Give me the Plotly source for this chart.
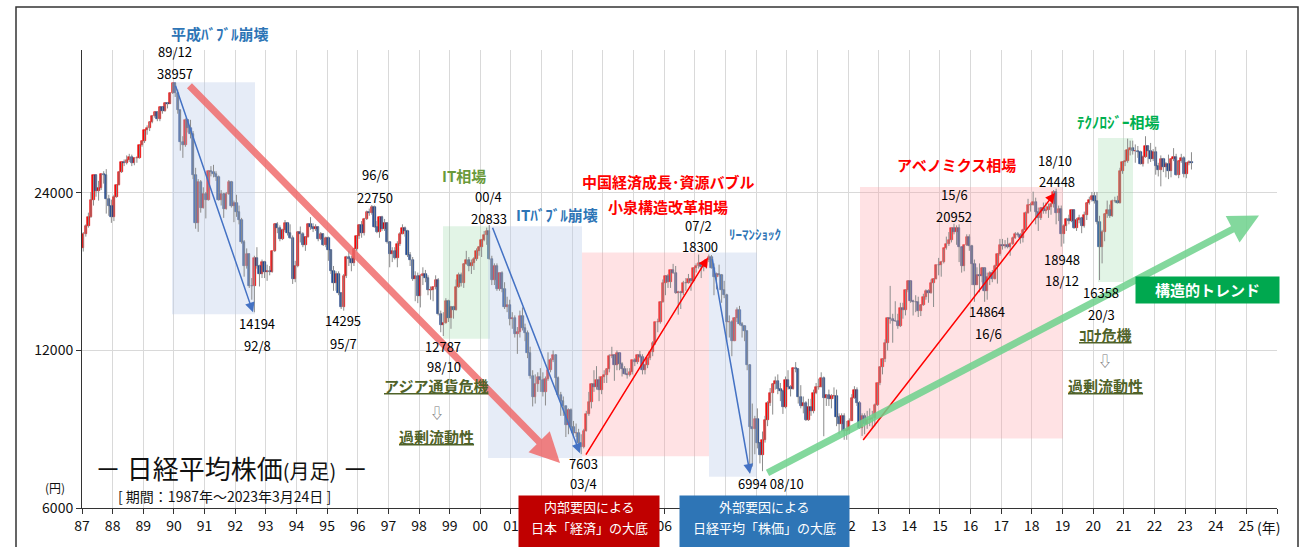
import math
import plotly.graph_objects as go

# ---------------- data (Nikkei 225 monthly, Jan 1987 - Mar 2023) ----------------
first_open = 18820
close = [
    20048, 20766, 21566, 23274, 25929, 24176, 24488, 26029, 26011, 23329, 22686, 21564,  # 1987
    23622, 24889, 26260, 27435, 27418, 27769, 28117, 27366, 27924, 27982, 29579, 30159,  # 1988
    31581, 31986, 32839, 33714, 34267, 33183, 34954, 34431, 35637, 35549, 37269, 38916,  # 1989
    37189, 34592, 29980, 29585, 33131, 31940, 31036, 25978, 20984, 25194, 22455, 23849,  # 1990
    23293, 26409, 26292, 26111, 25790, 23291, 23901, 22335, 23916, 25222, 22688, 22984,  # 1991
    22023, 21339, 19346, 17391, 18348, 15952, 15910, 18061, 17399, 16767, 17684, 16925,  # 1992
    17024, 16953, 18591, 20919, 20552, 19590, 20380, 21027, 20106, 19703, 16408, 17417,  # 1993
    20229, 19997, 19112, 19725, 20974, 20643, 20449, 20629, 19564, 19990, 19076, 19723,  # 1994
    18650, 17053, 16140, 16807, 15437, 14517, 16678, 18117, 17913, 17655, 18744, 19868,  # 1995
    20813, 20125, 21407, 22041, 21956, 22531, 20692, 20167, 21556, 20466, 21020, 19361,  # 1996
    18330, 18557, 18003, 19151, 20068, 20605, 20331, 18229, 17888, 16459, 16636, 15259,  # 1997
    16628, 16831, 16527, 15641, 15671, 15830, 16379, 14108, 13406, 13564, 14884, 13842,  # 1998
    14499, 14368, 15837, 16702, 16112, 17530, 17862, 17437, 17605, 17942, 18558, 18934,  # 1999
    19540, 19959, 20337, 17974, 16332, 17411, 15727, 16861, 15747, 14539, 14649, 13785,  # 2000
    13843, 12883, 12999, 13934, 13262, 12969, 11860, 10713, 9774, 10366, 10697, 10542,   # 2001
    9997, 10587, 11024, 11492, 11763, 10621, 9877, 9619, 9383, 8640, 9215, 8578,         # 2002
    8339, 8363, 7972, 7831, 8425, 9083, 9563, 10344, 10219, 10560, 10100, 10676,         # 2003
    10783, 11042, 11715, 11761, 11236, 11858, 11326, 11082, 10824, 10771, 10899, 11489,  # 2004
    11388, 11740, 11669, 11009, 11277, 11584, 11900, 12414, 13574, 13607, 14872, 16111,  # 2005
    16650, 16205, 17060, 16906, 15467, 15505, 15457, 16141, 16128, 16399, 16274, 17226,  # 2006
    17383, 17604, 17288, 17400, 17876, 18138, 17249, 16569, 16786, 16738, 15681, 15308,  # 2007
    13592, 13603, 12526, 13850, 14339, 13481, 13377, 13073, 11260, 8577, 8512, 8860,     # 2008
    7994, 7568, 8110, 8828, 9523, 9958, 10357, 10493, 10133, 10035, 9346, 10546,         # 2009
    10198, 10126, 11090, 11057, 9769, 9383, 9537, 8824, 9369, 9202, 9937, 10229,         # 2010
    10238, 10624, 9755, 9850, 9694, 9816, 9833, 8955, 8700, 8988, 8434, 8455,            # 2011
    8803, 9723, 10084, 9521, 8543, 9007, 8695, 8840, 8870, 8928, 9446, 10395,            # 2012
    11139, 11559, 12398, 13861, 13775, 13677, 13668, 13389, 14456, 14328, 15662, 16291,  # 2013
    14915, 14841, 14828, 14304, 14632, 15162, 15621, 15425, 16174, 16414, 17460, 17451,  # 2014
    17674, 18798, 19207, 19520, 20563, 20236, 20585, 18890, 17388, 19083, 19747, 19034,  # 2015
    17518, 16027, 16759, 16666, 17235, 15576, 16569, 16887, 16450, 17425, 18308, 19114,  # 2016
    19041, 19119, 18909, 19197, 19651, 20033, 19925, 19646, 20356, 22012, 22725, 22765,  # 2017
    23098, 22068, 21454, 22468, 22202, 22305, 22554, 22865, 24120, 21920, 22351, 20015,  # 2018
    20773, 21385, 21206, 22259, 20601, 21276, 21522, 20704, 21756, 22927, 23294, 23657,  # 2019
    23205, 21143, 18917, 20194, 21878, 22288, 21710, 23140, 23185, 22977, 26434, 27444,  # 2020
    27663, 28966, 29179, 28813, 28860, 28792, 27284, 28090, 29453, 28893, 27822, 28792,  # 2021
    27002, 26527, 27821, 26848, 27280, 26393, 27802, 28092, 25937, 27587, 27969, 26095,  # 2022
    27327, 27446, 27385,                                                                 # 2023
]
high = [
    20200, 20900, 22000, 24100, 25930, 26000, 25300, 26100, 26400, 26646, 23800, 23300,
    23800, 24900, 26400, 27500, 27800, 28300, 28500, 28400, 28000, 28200, 29600, 30200,
    31600, 32300, 32900, 33800, 34300, 34400, 35000, 35100, 35700, 35800, 37300, 38957,
    38920, 37800, 34600, 30800, 33300, 33200, 33100, 31500, 26800, 25500, 25400, 24600,
    24100, 26500, 27000, 27150, 26400, 25900, 24300, 24000, 24100, 25400, 25300, 23200,
    23800, 22700, 21500, 19500, 18800, 18400, 16500, 18200, 18900, 17500, 17900, 17800,
    17500, 17400, 18600, 20950, 21100, 20800, 20500, 21300, 21100, 20900, 19900, 17800,
    20300, 20700, 20200, 19800, 21000, 21573, 21000, 20900, 20700, 20200, 20100, 19800,
    19800, 18700, 17400, 17000, 17000, 15500, 16800, 18200, 18600, 18200, 18800, 19900,
    20900, 21200, 21500, 22200, 22400, 22750, 22700, 21200, 21600, 21700, 21400, 21100,
    19400, 18900, 18900, 19400, 20200, 20900, 20700, 20400, 18500, 18100, 17000, 16900,
    16800, 17300, 17100, 16700, 15900, 15900, 16700, 16500, 14300, 14200, 15100, 15000,
    14600, 14600, 16400, 16900, 16900, 17600, 18600, 18100, 17900, 18100, 18800, 19000,
    19600, 20300, 20600, 20833, 18200, 17600, 17600, 16900, 17000, 16200, 15200, 15000,
    14200, 14000, 13300, 14300, 14500, 13500, 13100, 12200, 11000, 10800, 10900, 11100,
    10900, 10700, 11900, 11600, 12000, 11800, 10700, 10000, 9800, 9400, 9300, 9300,
    8800, 8700, 8500, 8300, 8500, 9200, 10000, 10400, 11000, 11200, 10700, 10700,
    11000, 11100, 11800, 12195, 11800, 12000, 11900, 11400, 11200, 11100, 11100, 11500,
    11600, 11800, 11975, 11800, 11300, 11600, 11900, 12500, 13600, 13800, 14900, 16400,
    16700, 16800, 17100, 17563, 17400, 15600, 15600, 16300, 16500, 16800, 16500, 17300,
    17600, 18300, 17700, 17700, 17900, 18297, 18262, 17600, 16900, 17500, 16800, 16300,
    15400, 14000, 13700, 13900, 14500, 14600, 13600, 13400, 13100, 11300, 9500, 9000,
    9300, 8000, 8400, 9000, 9600, 10170, 10400, 10700, 10800, 10400, 10100, 10700,
    11000, 10300, 11100, 11400, 11100, 10300, 9800, 9600, 9700, 9700, 10100, 10400,
    10600, 10900, 10700, 9900, 10100, 9900, 10200, 10100, 9100, 9100, 9100, 8800,
    8900, 9900, 10255, 10200, 9600, 9100, 9100, 9200, 9300, 9200, 9500, 10400,
    11200, 11600, 12600, 13900, 15942, 14100, 14900, 14100, 14800, 14800, 15700, 16320,
    16300, 15000, 15300, 15200, 14700, 15400, 15700, 15700, 16400, 16500, 17500, 18030,
    17800, 18800, 19800, 20200, 20600, 20952, 20800, 20900, 18900, 19100, 20000, 20000,
    19100, 17900, 17300, 17600, 17300, 17300, 16900, 17000, 17100, 17500, 18400, 19600,
    19600, 19500, 19700, 19300, 19800, 20200, 20200, 20100, 20500, 22100, 23382, 23000,
    24130, 23500, 22500, 22500, 23000, 23000, 22900, 23000, 24300, 24448, 22700, 22700,
    20900, 21500, 21800, 22300, 22300, 21500, 21800, 21600, 22100, 23000, 23600, 24100,
    24100, 24100, 21700, 20400, 21900, 23200, 22800, 23300, 23600, 23700, 26800, 27600,
    28980, 30467, 30200, 30200, 29700, 29500, 28900, 28300, 30795, 29500, 29900, 29100,
    29400, 27400, 28300, 28000, 27500, 28400, 27900, 29222, 28500, 27600, 28500, 28200,
    27500, 27700, 28700,
]
low = [
    18540, 19800, 20600, 21500, 22700, 23600, 23200, 24300, 25000, 21910, 21700, 21036,
    21200, 23500, 24800, 26200, 27000, 27200, 27500, 27000, 27100, 27400, 27900, 29400,
    29900, 31000, 31500, 32600, 33400, 32900, 32900, 34000, 34300, 34800, 35500, 37100,
    36600, 34000, 28900, 28000, 29400, 31300, 30500, 25500, 20500, 20221, 22000, 22400,
    21450, 23200, 25800, 25700, 25300, 23200, 22700, 21500, 22300, 23800, 22500, 21100,
    21600, 20900, 19200, 16600, 17200, 15800, 15000, 14194, 17200, 15900, 16500, 16500,
    16300, 16700, 16900, 18500, 20100, 19400, 19500, 20200, 19900, 19600, 16078, 16200,
    17300, 19300, 18900, 18600, 19700, 20400, 20200, 20300, 19400, 19500, 19000, 18900,
    17800, 16800, 15600, 15600, 15300, 14400, 14295, 16500, 17400, 17000, 17400, 18600,
    19600, 19700, 19900, 21300, 21700, 21800, 20600, 20100, 19700, 20300, 20300, 19200,
    17300, 17700, 17900, 17300, 19000, 20000, 19800, 18100, 17400, 16300, 14900, 14775,
    14500, 16000, 16200, 15300, 15000, 14900, 15700, 14000, 13000, 12787, 13500, 13600,
    13200, 13800, 14300, 15800, 15900, 15800, 17500, 17000, 16800, 17100, 17800, 18200,
    18100, 19400, 19100, 17900, 16000, 16000, 15600, 15600, 15500, 14400, 14200, 13400,
    13200, 12700, 11820, 12700, 13100, 12500, 11600, 10600, 9380, 9500, 10000, 10000,
    9800, 9420, 10500, 10900, 11400, 10100, 9800, 9000, 9000, 8200, 8300, 8500,
    8200, 8200, 7700, 7603, 7800, 8400, 9000, 9300, 10000, 10100, 9600, 9900,
    10400, 10400, 10900, 11600, 10500, 11000, 11000, 10700, 10800, 10600, 10700, 10800,
    11200, 11300, 11600, 10800, 10800, 11100, 11500, 11700, 12300, 13000, 13500, 14800,
    15300, 15800, 15800, 16800, 15400, 14045, 14400, 15300, 15600, 16100, 15600, 16200,
    16900, 17200, 16500, 17000, 17200, 17700, 17200, 15300, 15700, 16600, 14800, 15100,
    12500, 12700, 11700, 12500, 13600, 13400, 12700, 12500, 11000, 6994, 7200, 7600,
    7800, 7300, 7055, 8000, 8600, 9400, 9050, 10100, 9900, 9600, 9076, 9300,
    10100, 9800, 10100, 10900, 9500, 9300, 9100, 8800, 8800, 9000, 9100, 9900,
    10100, 10200, 8227, 9400, 9400, 9300, 9700, 8600, 8300, 8400, 8100, 8100,
    8300, 8800, 9700, 9400, 8500, 8238, 8300, 8500, 8600, 8500, 8600, 9400,
    10300, 10800, 11400, 12000, 13500, 12415, 13600, 13200, 13300, 13800, 14000, 15500,
    14800, 13995, 14200, 13900, 13960, 14600, 15000, 14800, 15400, 14529, 16400, 16700,
    16600, 17600, 18700, 19000, 19300, 20000, 19100, 17700, 16900, 17000, 19000, 18600,
    16000, 14865, 16000, 15500, 16200, 14864, 15000, 16000, 16200, 16400, 16100, 18200,
    18700, 18800, 18800, 18200, 19100, 19600, 19800, 19200, 19300, 20300, 21900, 22100,
    22700, 20900, 20300, 21300, 21900, 21900, 21500, 21800, 22500, 20900, 21200, 18948,
    19200, 20300, 20900, 21100, 20500, 20300, 21000, 20100, 20600, 21300, 22800, 23100,
    22900, 20900, 16358, 17600, 19400, 21500, 21500, 21600, 23000, 22900, 22900, 26100,
    27000, 27400, 28300, 28400, 27400, 28000, 27200, 26950, 28000, 27300, 27500, 27600,
    26000, 25800, 24700, 26300, 25700, 25500, 25700, 27600, 25900, 25600, 27400, 25700,
    25600, 27100, 26600,
]
years = list(range(1987, 2027))
# year labels; those hidden under the two captions at the bottom are left blank
hidden_years = {2002, 2003, 2004, 2005, 2007, 2008, 2009, 2010, 2011}
year_labels = [("" if y in hidden_years else f"{y % 100:02d}") for y in range(1987, 2026)] + [""]
price_ticks = [6000, 12000, 24000]

# ---------------- geometry ----------------
W, H = 1306, 547
ML, MR, MT, MB = 82, 29, 50, 29
PW, PH = W - ML - MR, H - MT - MB
X0, X1 = 1987, 2026
YLO, YHI = 6000, 45000
LLO, LHI = math.log10(YLO), math.log10(YHI)
FONT = "Noto Sans CJK JP"


def dx(px):
    return X0 + (px - ML) / PW * (X1 - X0)


def dly(py):
    return LLO + (H - MB - py) / PH * (LHI - LLO)


def dv(py):
    return 10 ** dly(py)


def pp(px, py):
    return (px - ML) / PW, (H - MB - py) / PH


n = len(close)
xs = [1987 + (i + 0.5) / 12 for i in range(n)]
opens = [first_open] + close[:-1]

fig = go.Figure()

# shaded regions (pixel boxes -> data)
regions = [
    (172, 255, 83, 320, "rgba(190,205,235,0.38)"),
    (443, 490, 230, 345, "rgba(150,215,165,0.28)"),
    (488, 582, 230, 467, "rgba(190,205,235,0.38)"),
    (582, 709, 257, 465, "rgba(255,160,165,0.30)"),
    (709, 757, 257, 486, "rgba(190,205,235,0.38)"),
    (860, 1063, 190, 447, "rgba(255,160,165,0.30)"),
    (1098, 1133, 140, 287, "rgba(150,215,165,0.28)"),
]
for x0, x1, y0, y1, col in regions:
    fig.add_trace(go.Scatter(
        x=[dx(x0), dx(x1), dx(x1), dx(x0), dx(x0)],
        y=[dv(y0), dv(y0), dv(y1), dv(y1), dv(y0)],
        fill="toself", fillcolor=col, line=dict(width=0), mode="lines",
        hoverinfo="skip", showlegend=False))

# wicks
wx, wy = [], []
for x, h, l in zip(xs, high, low):
    wx += [x, x, None]
    wy += [l, h, None]
fig.add_trace(go.Scatter(x=wx, y=wy, mode="lines", line=dict(color="#8c8c8c", width=1),
                         hoverinfo="skip", showlegend=False))

# bodies
ux, ub, uh, dxs, db, dh = [], [], [], [], [], []
for x, o, c in zip(xs, opens, close):
    if c >= o:
        ux.append(x); ub.append(o); uh.append(max(c - o, 1))
    else:
        dxs.append(x); db.append(c); dh.append(o - c)
fig.add_trace(go.Bar(x=ux, y=uh, base=ub, width=0.075, marker=dict(color="#ff0000", line=dict(width=0.6, color="#e00000")),
                     hoverinfo="skip", showlegend=False))
fig.add_trace(go.Bar(x=dxs, y=dh, base=db, width=0.075, marker=dict(color="#1f4fa0", line=dict(width=0.6, color="#102f70")),
                     hoverinfo="skip", showlegend=False))

ann = []


def arrow(p0, p1, color, width, size=1.0, head=2):
    ann.append(dict(x=dx(p1[0]), y=dly(p1[1]), ax=dx(p0[0]), ay=dly(p0[1]),
                    xref="x", yref="y", axref="x", ayref="y", text="", showarrow=True,
                    arrowhead=head, arrowsize=size, arrowwidth=width, arrowcolor=color, standoff=0))


arrow((188, 85), (560, 472), "rgba(240,100,100,0.8)", 7, 0.85)
arrow((175, 85), (253, 318), "#4472c4", 1.5, 1.3)
arrow((492, 230), (580, 462), "#4472c4", 1.5, 1.3)
arrow((712, 262), (750, 483), "#4472c4", 1.5, 1.3)
arrow((585, 465), (708, 262), "#ff0000", 1.5, 1.3)
arrow((862, 450), (1055, 196), "#ff0000", 1.5, 1.3)
arrow((766, 483), (1259, 219), "rgba(110,210,140,0.85)", 7, 0.85)


def txt(px, py, s, size=13, color="#000000", bold=False):
    x, y = pp(px, py)
    ann.append(dict(x=x, y=y, xref="paper", yref="paper", text=(f"<b>{s}</b>" if bold else s), showarrow=False,
                    font=dict(size=size, color=color, family=FONT), xanchor="center", yanchor="middle"))


def box(cx, cy, w, h, col):
    x, y = pp(cx, cy)
    ann.append(dict(x=x, y=y, xref="paper", yref="paper", text=" ", showarrow=False, width=w, height=h,
                    bgcolor=col, borderpad=0, xanchor="center", yanchor="middle", font=dict(size=10)))


BLUE = "#2e75b6"
RED = "#ff0000"
OLIVE = "#6a9a3a"
DKOLIVE = "#4f6228"

txt(220, 33, "平成ﾊﾞﾌﾞﾙ崩壊", 15, BLUE, True)
txt(175, 52, "89/12"); txt(175, 74, "38957")
txt(257, 329, "14194"); txt(257, 352, "92/8")
txt(343, 326, "14295"); txt(343, 350, "95/7")
txt(375, 177, "96/6"); txt(375, 201, "22750")
txt(464, 178, "IT相場", 15, OLIVE, True)
txt(488, 200, "00/4"); txt(489, 222, "20833")
txt(557, 218, "ITﾊﾞﾌﾞﾙ崩壊", 15, BLUE, True)
txt(668, 184, "中国経済成長･資源バブル", 15, RED, True)
txt(668, 210, "小泉構造改革相場", 15, RED, True)
txt(698, 229, "07/2"); txt(700, 251, "18300")
txt(755, 238, "ﾘｰﾏﾝｼｮｯｸ", 13, BLUE, True)
txt(443, 353, "12787"); txt(444, 373, "98/10")
txt(436, 393, "<u>アジア通貨危機</u>", 15, DKOLIVE, True)
txt(437, 420, "⇩", 14, "#777777")
txt(436, 445, "<u>過剰流動性</u>", 15, DKOLIVE, True)
txt(583, 473, "7603"); txt(583, 493, "03/4")
txt(771, 493, "6994 08/10")
txt(956, 167, "アベノミクス相場", 15, RED, True)
txt(954, 198, "15/6"); txt(954, 220, "20952")
txt(987, 317, "14864"); txt(988, 340, "16/6")
txt(1055, 163, "18/10"); txt(1057, 184, "24448")
txt(1062, 264, "18948"); txt(1062, 286, "18/12")
txt(1118, 123, "ﾃｸﾉﾛｼﾞｰ相場", 15, "#00b050", True)
txt(1101, 298, "16358"); txt(1101, 320, "20/3")
txt(1105, 341, "<u>ｺﾛﾅ危機</u>", 15, DKOLIVE, True)
txt(1105, 367, "⇩", 14, "#777777")
txt(1105, 393, "<u>過剰流動性</u>", 15, DKOLIVE, True)

box(1207.5, 295, 143, 26, "#00a84f")
txt(1207.5, 295, "構造的トレンド", 15, "#ffffff", True)

box(589, 536, 140, 60, "#c00000")
txt(589, 516, "内部要因による", 13, "#ffffff")
txt(589, 538, "日本「経済」の大底", 13, "#ffffff")
box(764.5, 536, 169, 60, "#2e75b6")
txt(764.5, 516, "外部要因による", 13, "#ffffff")
txt(764.5, 538, "日経平均「株価」の大底", 13, "#ffffff")

txt(231, 477, "－ 日経平均株価<span style='font-size:20px'>(月足)</span> －", 26, "#111111")
txt(224, 506, "[ 期間：1987年～2023年3月24日 ]", 14, "#111111")
txt(55, 497, "(円)", 12, "#111111")
txt(1268, 537, "(年)", 14, "#111111")

fx0, fy0 = pp(16, 6)
fx1, fy1 = pp(1298, 600)

fig.update_layout(
    width=W, height=H, margin=dict(l=ML, r=MR, t=MT, b=MB),
    paper_bgcolor="white", plot_bgcolor="white", barmode="overlay", bargap=0,
    showlegend=False, annotations=ann, hovermode=False,
    font=dict(family=FONT, size=14, color="#111111"),
    shapes=[dict(type="rect", xref="paper", yref="paper", x0=fx0, x1=fx1, y0=fy1, y1=fy0,
                 line=dict(color="#333333", width=1.5), fillcolor="rgba(0,0,0,0)")],
    xaxis=dict(range=[X0, X1], tickmode="array", tickvals=years, ticktext=year_labels,
               showgrid=True, gridcolor="#d9d9d9", gridwidth=1, showline=True, linecolor="#333333",
               ticks="outside", ticklen=5, tickcolor="#333333", tickfont=dict(size=14), zeroline=False),
    yaxis=dict(type="log", range=[LLO, LHI], tickmode="array", tickvals=price_ticks,
               ticktext=[str(v) for v in price_ticks], showgrid=True, gridcolor="#d9d9d9",
               showline=True, linecolor="#333333", ticks="outside", ticklen=5, tickcolor="#333333",
               tickfont=dict(size=14), zeroline=False),
)

fig.write_html("out.html")
